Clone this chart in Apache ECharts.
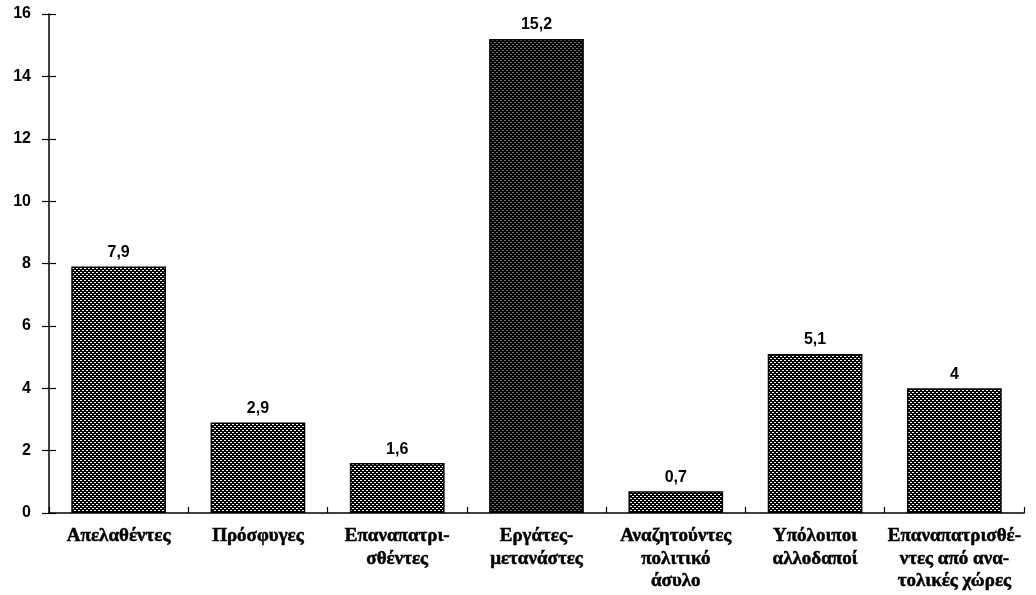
<!DOCTYPE html>
<html><head><meta charset="utf-8">
<script src="https://cdn.jsdelivr.net/npm/echarts@6/dist/echarts.min.js"></script>
<style>html,body{margin:0;padding:0;background:#fff}#c{width:1036px;height:595px}</style>
</head><body><div id="c"></div>
<script>
var categories = ['Απελαθέντες','Πρόσφυγες','Επαναπατρι-\nσθέντες','Εργάτες-\nμετανάστες','Αναζητούντες\nπολιτικό\nάσυλο','Υπόλοιποι\nαλλοδαποί','Επαναπατρισθέ-\nντες από ανα-\nτολικές χώρες'];
var values = [7.9, 2.9, 1.6, 15.2, 0.7, 5.1, 4];
var darkIndex = 3;

function makePattern(dot){
  var c = document.createElement('canvas'); c.width = 4; c.height = 4;
  var g = c.getContext('2d');
  g.fillStyle = '#000'; g.fillRect(0,0,4,4);
  g.fillStyle = dot; g.fillRect(0,0,2,1); g.fillRect(2,2,2,1);
  return {image: c, repeat: 'repeat'};
}
var lightPat = makePattern('#ffffff');
var darkPat = makePattern('#6a6a6a');

var chart = echarts.init(document.getElementById('c'));
var sans = 'Liberation Sans';
var serif = 'Liberation Serif';
var clear = 'rgba(0,0,0,0)';
var gridBox = {left: 49, right: 12, top: 14, bottom: 82};
chart.setOption({
  animation: false,
  grid: [Object.assign({}, gridBox), Object.assign({}, gridBox)],
  xAxis: [{
    type: 'category', data: categories, gridIndex: 0,
    axisLine: {lineStyle: {color: '#000', width: 1.5}},
    axisTick: {length: 6, lineStyle: {color: '#000', width: 1.2}},
    axisLabel: {fontFamily: serif, fontWeight: 'bold', fontSize: 19, color: '#000', lineHeight: 22.5, margin: 12, interval: 0,
      textBorderColor: '#000', textBorderWidth: 0.5}
  },{
    type: 'category', data: categories, gridIndex: 1,
    axisLine: {show: true, lineStyle: {color: clear}},
    axisTick: {show: true, inside: true, length: 6, lineStyle: {color: '#000', width: 1.2}},
    axisLabel: {show: false}
  }],
  yAxis: [{
    type: 'value', min: 0, max: 16, interval: 2, gridIndex: 0,
    splitLine: {show: false},
    axisLine: {show: true, lineStyle: {color: '#000', width: 1.5}},
    axisTick: {show: true, length: 7, lineStyle: {color: '#000', width: 1.2}},
    axisLabel: {fontFamily: sans, fontWeight: 'bold', fontSize: 16, color: '#000', margin: 18}
  },{
    type: 'value', min: 0, max: 16, interval: 2, gridIndex: 1,
    splitLine: {show: false},
    axisLine: {show: true, lineStyle: {color: clear}},
    axisTick: {show: true, inside: true, length: 7, lineStyle: {color: '#000', width: 1.2}},
    axisLabel: {show: false}
  }],
  series: [{
    type: 'bar', barCategoryGap: '32%',
    data: values.map(function(v, i){
      return {value: v, itemStyle: {color: i === darkIndex ? darkPat : lightPat}};
    }),
    itemStyle: {borderColor: '#000', borderWidth: 1.5},
    label: {show: true, position: 'top', distance: 6, fontFamily: sans, fontWeight: 'bold', fontSize: 16, color: '#000',
      formatter: function(p){ return String(p.value).replace('.', ','); }}
  },{
    type: 'bar', xAxisIndex: 1, yAxisIndex: 1, data: [], silent: true
  }]
});
</script>
</body></html>
